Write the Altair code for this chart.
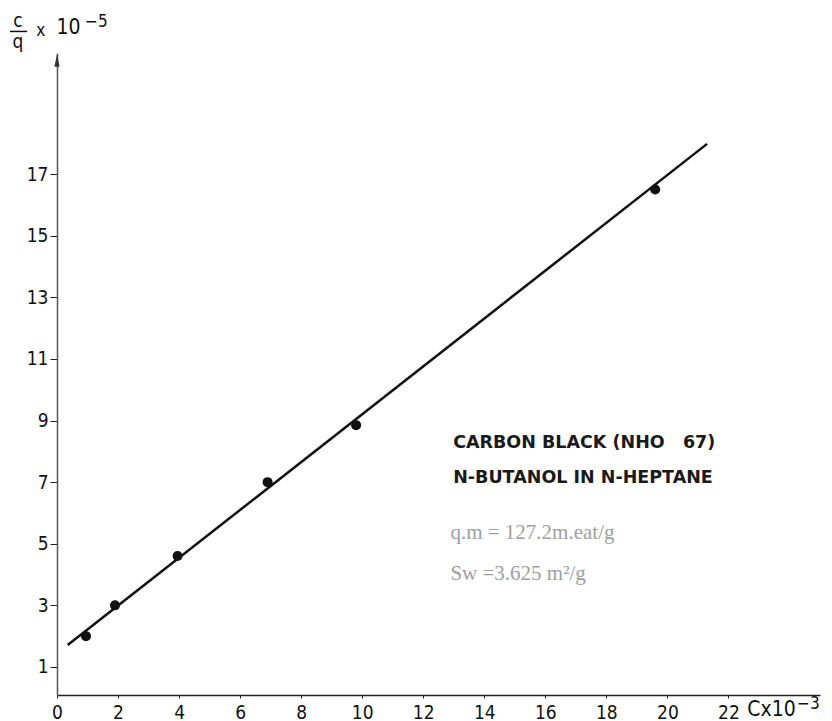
import altair as alt
import pandas as pd

# measured points (C x 10^-3, c/q x 10^-5)
x_vals = [0.95, 1.9, 3.95, 6.9, 9.8, 19.6]
y_vals = [2.0, 3.0, 4.6, 7.0, 8.85, 16.5]

# drawn straight line end points
fit_x = [0.35, 21.3]
fit_y = [1.71, 17.98]

x_ticks = [0, 2, 4, 6, 8, 10, 12, 14, 16, 18, 20, 22]
y_ticks = [1, 3, 5, 7, 9, 11, 13, 15, 17]

label_lines = ["CARBON BLACK (NHO\u00a0\u00a0 67)", "N-BUTANOL IN N-HEPTANE"]
param_lines = ["q.m = 127.2m.eat/g", "Sw =3.625 m\u00b2/g"]

NARROW = "Liberation Sans Narrow, DejaVu Sans Condensed, Liberation Sans"

xs = alt.Scale(domain=[0, 25], nice=False, zero=False)
ys = alt.Scale(domain=[0.09, 20.93], nice=False, zero=False)

x_axis = alt.Axis(
    values=x_ticks, title=None, grid=False, domainColor="#222", domainWidth=1.5,
    tickColor="#222", tickSize=3, labelFont=NARROW, labelFontSize=19,
    labelColor="#111", labelPadding=5, labelFlush=False)
y_axis = alt.Axis(
    values=y_ticks, title=None, grid=False, domainColor="#555", domainWidth=1.5,
    tickColor="#222", tickSize=7, labelFont=NARROW, labelFontSize=19,
    labelColor="#111", labelPadding=2, labelFlush=False)


def X(f="x:Q"):
    return alt.X(f, scale=xs, axis=x_axis)


def Y(f="y:Q"):
    return alt.Y(f, scale=ys, axis=y_axis)


pts = pd.DataFrame({"x": x_vals, "y": y_vals})
fit = pd.DataFrame({"x": fit_x, "y": fit_y})

points = alt.Chart(pts).mark_circle(size=100, color="#111", opacity=1).encode(x=X(), y=Y())

line = alt.Chart(fit).mark_line(color="#111", strokeWidth=2.5).encode(x=X(), y=Y())

arrow = alt.Chart(pd.DataFrame({"x": [0], "y": [20.65]})).mark_point(
    shape="M-0.5,1 L0,-1.4 L0.5,1 Z", filled=True, size=110, color="#333", opacity=1
).encode(x=X(), y=Y())

lab = pd.DataFrame({"t": label_lines, "x": [12.98, 12.98], "y": [8.27, 7.14]})
labels = alt.Chart(lab).mark_text(
    align="left", baseline="middle", font="DejaVu Sans", fontSize=17.5,
    fontWeight="bold", color="#1a1a1a"
).encode(x=X(), y=Y(), text="t:N")

par = pd.DataFrame({"t": param_lines, "x": [12.89, 12.89], "y": [5.35, 4.02]})
params = alt.Chart(par).mark_text(
    align="left", baseline="middle", font="Liberation Serif", fontSize=21, color="#a0a0a0"
).encode(x=X(), y=Y(), text="t:N")

# axis title pieces
big_c = pd.DataFrame({"t": ["c", "q"], "x": [-1.28, -1.28], "y": [21.97, 21.28]})
t_big_c = alt.Chart(big_c).mark_text(
    align="center", baseline="middle", font=NARROW, fontSize=19, color="#111"
).encode(x=X(), y=Y(), text="t:N")

big_l = pd.DataFrame({"t": ["10", "Cx10"], "x": [-0.02, 22.62], "y": [21.75, -0.4]})
t_big_l = alt.Chart(big_l).mark_text(
    align="left", baseline="middle", font=NARROW, fontSize=21, color="#111"
).encode(x=X(), y=Y(), text="t:N")

small = pd.DataFrame({
    "t": ["x", "\u22125", "\u22123"],
    "x": [-0.68, 0.92, 24.25],
    "y": [21.64, 21.95, -0.2],
})
t_small = alt.Chart(small).mark_text(
    align="left", baseline="middle", font=NARROW, fontSize=17, color="#111"
).encode(x=X(), y=Y(), text="t:N")

bar = alt.Chart(pd.DataFrame({"x": [-1.54], "x2": [-0.98], "y": [21.63]})).mark_rule(
    color="#111", strokeWidth=1.5
).encode(x=X(), x2="x2:Q", y=Y())

chart = alt.layer(points, line, arrow, labels, params, t_big_c, t_big_l, t_small, bar).properties(
    width=763, height=642,
    autosize=alt.AutoSizeParams(type="none"),
    padding={"left": 49, "top": 45, "right": 4, "bottom": 26},
    background="white",
).configure_view(stroke=None)

chart.save("out.html", embed_options={"renderer": "svg", "actions": False})
